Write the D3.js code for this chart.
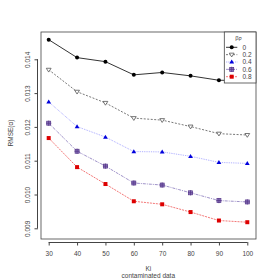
<!DOCTYPE html>
<html>
<head>
<meta charset="utf-8">
<script src="https://cdn.jsdelivr.net/npm/d3@7"></script>
<style>
body { margin: 0; background: #fff; }
text { font-family: "Liberation Sans", Arial, sans-serif; }
</style>
</head>
<body>
<div id="vis"></div>
<script>
var ki = [30, 40, 50, 60, 70, 80, 90, 100];
var beta = ["0", "0.2", "0.4", "0.6", "0.8"];
var rmse0  = [0.01458, 0.01405, 0.01393, 0.01354, 0.01361, 0.01351, 0.01338, 0.01337];
var rmse02 = [0.01369, 0.01304, 0.01271, 0.01226, 0.01220, 0.01201, 0.01180, 0.01176];
var rmse04 = [0.01274, 0.01201, 0.01170, 0.01127, 0.01126, 0.01113, 0.01095, 0.01092];
var rmse06 = [0.01211, 0.01128, 0.01084, 0.01034, 0.01028, 0.01005, 0.00982, 0.00978];
var rmse08 = [0.01167, 0.01081, 0.01031, 0.00980, 0.00971, 0.00948, 0.00923, 0.00918];
var yTicks = [0.009, 0.010, 0.011, 0.012, 0.013, 0.014];

var series = [
  { name: beta[0], values: rmse0,  color: "#000000", dash: null,      shape: "circle" },
  { name: beta[1], values: rmse02, color: "#555555", dash: "2,1.5",   shape: "tridown" },
  { name: beta[2], values: rmse04, color: "#0000dd", dash: "0.8,1",   shape: "triup", line: "#8888ff" },
  { name: beta[3], values: rmse06, color: "#553388", dash: "3,1,1,1", shape: "boxplus", line: "#8877bb" },
  { name: beta[4], values: rmse08, color: "#dd0000", dash: "2,1",     shape: "square", line: "#f05555" }
];

var width = 280, height = 280;
var margin = { top: 32, right: 24, bottom: 41, left: 41 };

var svg = d3.select('#vis')
  .append('svg')
  .attr('width', width)
  .attr('height', height);

var x = d3.scaleLinear()
  .domain([30, 100])
  .range([48.7, 247.3]);

var y = d3.scaleLinear()
  .domain([0.009, 0.014])
  .range([228.3, 59.3]);

// box
svg.append('rect')
  .attr('x', margin.left)
  .attr('y', margin.top)
  .attr('width', width - margin.left - margin.right)
  .attr('height', height - margin.top - margin.bottom)
  .attr('fill', 'none')
  .attr('stroke', '#444')
  .attr('stroke-width', 0.8);

// x axis
var xAxis = d3.axisBottom(x).tickValues(ki).tickSize(3.5).tickPadding(5.5).tickFormat(d3.format('d'));
var gx = svg.append('g')
  .attr('transform', 'translate(0,' + (height - margin.bottom + 3) + ')')
  .call(xAxis);
gx.select('.domain').attr('d', 'M' + x(30) + ',0.5H' + x(100)).attr('stroke', '#444');

// y axis
var yAxis = d3.axisLeft(y).tickValues(yTicks).tickSize(3.5).tickPadding(4).tickFormat(d3.format('.3f'));
var gy = svg.append('g')
  .attr('transform', 'translate(' + (margin.left - 3) + ',0)')
  .call(yAxis);
gy.select('.domain').attr('d', 'M-0.5,' + y(0.009) + 'V' + y(0.014)).attr('stroke', '#444');
gy.selectAll('.tick text')
  .attr('x', 0)
  .attr('y', 0)
  .attr('dy', 0)
  .attr('text-anchor', 'middle')
  .attr('transform', 'rotate(-90) translate(0,-8)');

svg.selectAll('.tick line').attr('stroke', '#444');
svg.selectAll('.tick text').attr('font-size', 6.5).attr('fill', '#444').attr('font-family', '"Liberation Sans", Arial, sans-serif');

// labels
svg.append('text')
  .attr('transform', 'translate(12.5,' + 133 + ') rotate(-90)')
  .attr('text-anchor', 'middle')
  .attr('font-size', 6.5)
  .attr('fill', '#444')
  .text('RMSE(α)');
svg.append('text')
  .attr('x', 148.3).attr('y', 270.5)
  .attr('text-anchor', 'middle')
  .attr('font-size', 6.5)
  .attr('fill', '#444')
  .text('Ki');
svg.append('text')
  .attr('x', 148.3).attr('y', 278)
  .attr('text-anchor', 'middle')
  .attr('font-size', 6.5)
  .attr('fill', '#444')
  .text('contaminated data');

function drawSymbol(g, shape, cx, cy, color) {
  if (shape === 'circle') {
    g.append('circle').attr('cx', cx).attr('cy', cy).attr('r', 2).attr('fill', color);
  } else if (shape === 'tridown') {
    g.append('path').attr('d', 'M' + (cx - 2.4) + ',' + (cy - 1.5) + 'H' + (cx + 2.4) + 'L' + cx + ',' + (cy + 2.3) + 'Z')
      .attr('fill', 'white').attr('stroke', color).attr('stroke-width', 0.8);
  } else if (shape === 'triup') {
    g.append('path').attr('d', 'M' + (cx - 2.4) + ',' + (cy + 1.6) + 'H' + (cx + 2.4) + 'L' + cx + ',' + (cy - 2.4) + 'Z')
      .attr('fill', color);
  } else if (shape === 'boxplus') {
    g.append('rect').attr('x', cx - 2).attr('y', cy - 2).attr('width', 4).attr('height', 4)
      .attr('fill', '#9080c0').attr('stroke', color).attr('stroke-width', 0.7);
    g.append('path').attr('d', 'M' + (cx - 2.6) + ',' + cy + 'H' + (cx + 2.6) + 'M' + cx + ',' + (cy - 2.6) + 'V' + (cy + 2.6))
      .attr('stroke', color).attr('stroke-width', 0.8);
  } else {
    g.append('rect').attr('x', cx - 2).attr('y', cy - 2).attr('width', 4).attr('height', 4).attr('fill', color);
  }
}

var line = d3.line()
  .x(function(d, i) { return x(ki[i]); })
  .y(function(d) { return y(d); });

series.forEach(function(s) {
  var g = svg.append('g');
  g.append('path')
    .attr('d', line(s.values))
    .attr('fill', 'none')
    .attr('stroke', s.line || s.color)
    .attr('stroke-width', 0.8)
    .attr('stroke-dasharray', s.dash);
  s.values.forEach(function(v, i) {
    drawSymbol(g, s.shape, x(ki[i]), y(v), s.color);
  });
});

// legend
var lx = 224.3, ly = margin.top, lw = width - margin.right - lx, lh = 51;
var leg = svg.append('g');
leg.append('rect')
  .attr('x', lx).attr('y', ly).attr('width', lw).attr('height', lh)
  .attr('fill', 'white').attr('stroke', '#444').attr('stroke-width', 0.8);
leg.append('text')
  .attr('x', 238.5).attr('y', 39.5)
  .attr('text-anchor', 'middle')
  .attr('font-size', 6)
  .attr('fill', '#444')
  .html('β<tspan font-size="4.5" dy="1.5">P</tspan>');
series.forEach(function(s, i) {
  var yy = 47.3 + i * 7.35;
  leg.append('path')
    .attr('d', 'M226,' + yy + 'H237.3')
    .attr('stroke', s.line || s.color)
    .attr('stroke-width', 0.8)
    .attr('stroke-dasharray', s.dash);
  drawSymbol(leg, s.shape, 231.7, yy, s.color);
  leg.append('text')
    .attr('x', 242.5).attr('y', yy + 2.3)
    .attr('font-size', 6.5)
    .attr('fill', '#444')
    .text(s.name);
});
</script>
</body>
</html>
